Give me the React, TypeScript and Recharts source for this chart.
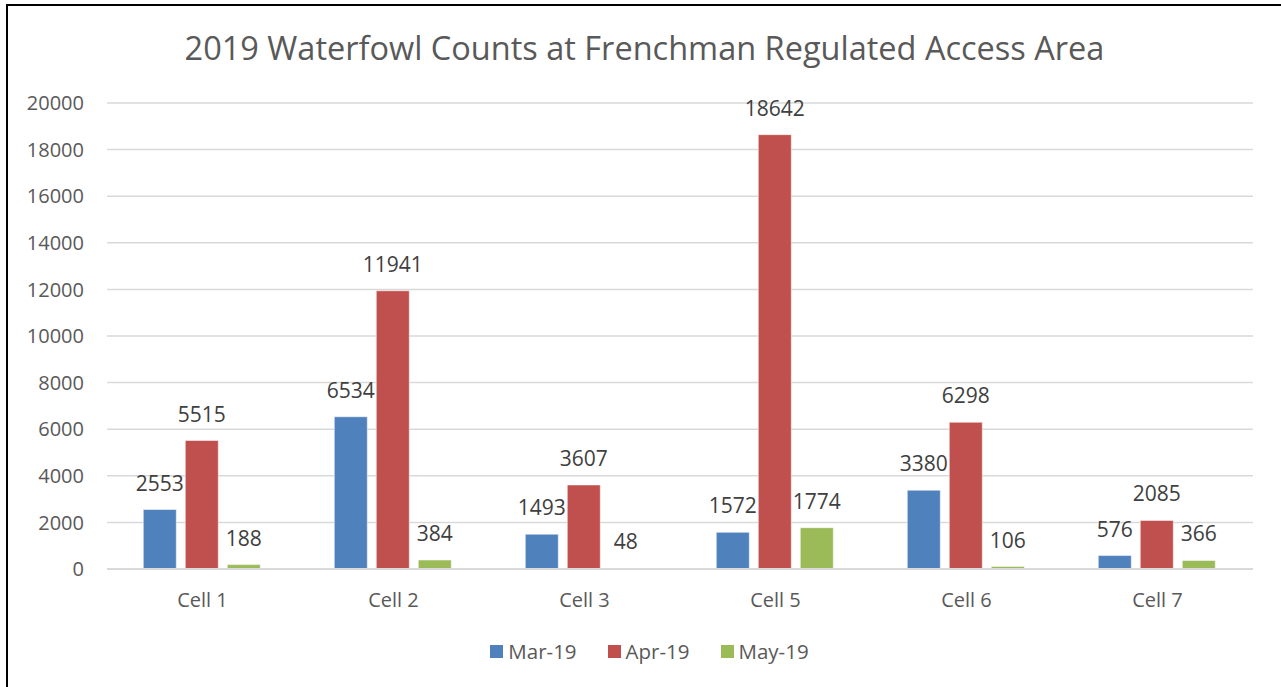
import { BarChart, Bar, XAxis, YAxis, CartesianGrid, Legend, LabelList } from "recharts";

const cells = ["Cell 1", "Cell 2", "Cell 3", "Cell 5", "Cell 6", "Cell 7"];
const mar19 = [2553, 6534, 1493, 1572, 3380, 576];
const apr19 = [5515, 11941, 3607, 18642, 6298, 2085];
const may19 = [188, 384, 48, 1774, 106, 366];
const yTicks = [0, 2000, 4000, 6000, 8000, 10000, 12000, 14000, 16000, 18000, 20000];

const seriesNames = ["Mar-19", "Apr-19", "May-19"];
const seriesColors = ["#4F81BD", "#C0504D", "#9BBB59"];

const data = cells.map((cell, i) => ({
  cell,
  mar: mar19[i],
  apr: apr19[i],
  may: may19[i],
}));

const FONT = "'Open Sans', sans-serif";

const LegendContent = () => (
  <div style={{ display: "flex", justifyContent: "center", alignItems: "center", fontFamily: FONT, fontSize: 20.5, color: "#595959", paddingLeft: 46 }}>
    {seriesNames.map((name, i) => (
      <div key={name} style={{ display: "flex", alignItems: "center", marginLeft: i ? 31 : 0 }}>
        <span style={{ width: 13, height: 13, background: seriesColors[i], display: "inline-block", marginRight: 5 }} />
        <span>{name}</span>
      </div>
    ))}
  </div>
);

const App = () => {
  return (
    <div style={{ position: "absolute", left: 0, top: 0, width: 1281, height: 687, background: "#fff", overflow: "hidden", fontFamily: FONT }}>
      <div
        style={{
          position: "absolute",
          left: 6,
          top: 4,
          width: 1300,
          height: 700,
          border: "2px solid #000",
          boxSizing: "border-box",
        }}
      />
      <div
        style={{
          position: "absolute",
          left: 0,
          width: 1289,
          top: 25,
          textAlign: "center",
          fontSize: 32.5,
          color: "#595959",
        }}
      >
        2019 Waterfowl Counts at Frenchman Regulated Access Area
      </div>
      <BarChart
        width={1281}
        height={687}
        data={data}
        margin={{ top: 103, right: 28, left: 0, bottom: 60 }}
        barCategoryGap="19%"
        barGap={9}
        style={{ position: "absolute", left: 0, top: 0 }}
      >
        <CartesianGrid vertical={false} stroke="#d9d9d9" strokeWidth={1.5} />
        <XAxis
          dataKey="cell"
          axisLine={{ stroke: "#d9d9d9", strokeWidth: 2 }}
          tickLine={false}
          tickMargin={18}
          tick={{ fill: "#595959", fontSize: 20, fontFamily: FONT }}
        />
        <YAxis
          width={107}
          domain={[0, 20000]}
          ticks={yTicks}
          interval={0}
          axisLine={false}
          tickLine={false}
          tickMargin={17}
          tick={{ fill: "#595959", fontSize: 20, fontFamily: FONT }}
        />
        <Legend verticalAlign="bottom" content={<LegendContent />} wrapperStyle={{ bottom: 22 }} />
        <Bar dataKey="mar" name="Mar-19" fill={seriesColors[0]} stroke="#ffffff" strokeOpacity={0.5} isAnimationActive={false}>
          <LabelList dataKey="mar" position="top" offset={19} fill="#404040" fontSize={21} fontFamily={FONT} />
        </Bar>
        <Bar dataKey="apr" name="Apr-19" fill={seriesColors[1]} stroke="#ffffff" strokeOpacity={0.5} isAnimationActive={false}>
          <LabelList dataKey="apr" position="top" offset={19} fill="#404040" fontSize={21} fontFamily={FONT} />
        </Bar>
        <Bar dataKey="may" name="May-19" fill={seriesColors[2]} stroke="#ffffff" strokeOpacity={0.5} isAnimationActive={false}>
          <LabelList dataKey="may" position="top" offset={19} fill="#404040" fontSize={21} fontFamily={FONT} />
        </Bar>
      </BarChart>
    </div>
  );
};

export default App;
